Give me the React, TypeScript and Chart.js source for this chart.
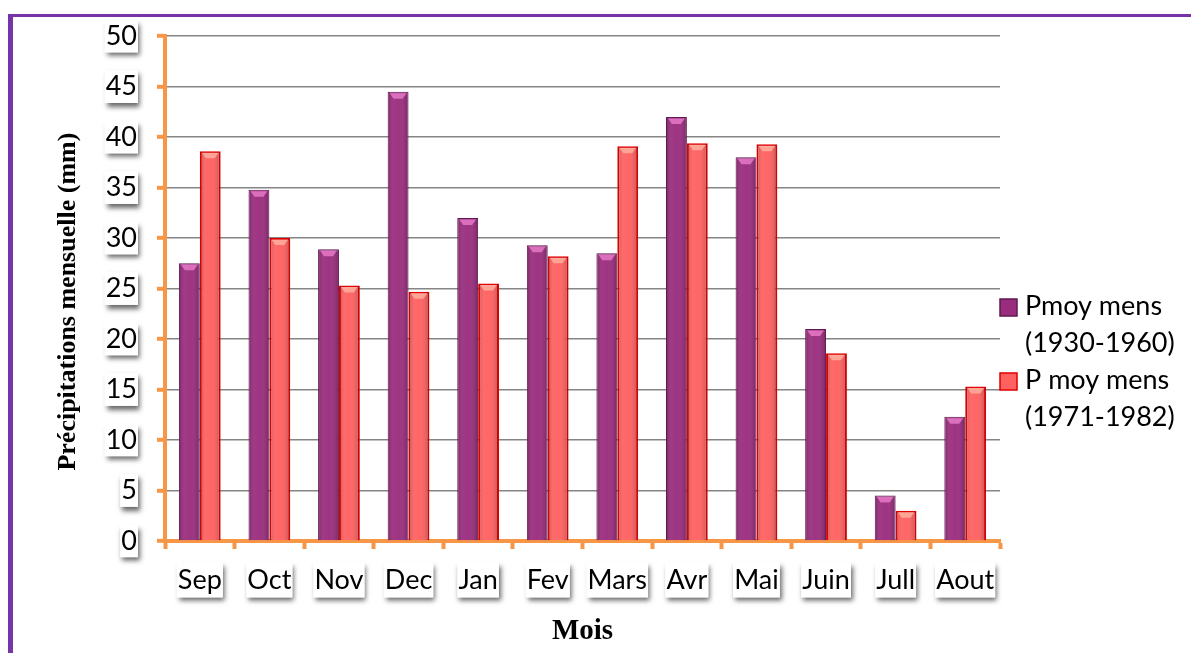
import React, { useEffect, useRef } from "react";
import { Chart, registerables } from "chart.js";

Chart.register(...registerables);

const months = ["Sep", "Oct", "Nov", "Dec", "Jan", "Fev", "Mars", "Avr", "Mai", "Juin", "Jull", "Aout"];
const pmoy1930 = [27.5, 34.8, 28.9, 44.5, 32.0, 29.3, 28.5, 42.0, 38.0, 21.0, 4.5, 12.3];
const pmoy1971 = [38.6, 30.0, 25.3, 24.7, 25.5, 28.2, 39.1, 39.4, 39.3, 18.6, 3.0, 15.3];
const seriesNames = [
  ["Pmoy mens", "(1930-1960)"],
  ["P moy mens", "(1971-1982)"],
];
const yTicks = [0, 5, 10, 15, 20, 25, 30, 35, 40, 45, 50];

const ORANGE = "#F79646";
const PURPLE = "#9A2C7D";
const PURPLE_BORDER = "#5E1A50";
const RED = "#FF6060";
const RED_BORDER = "#E00000";
const TICK_FONT = "Lato";

const labelShadowPlugin = {
  id: "labelShadow",
  beforeDraw(chart: any) {
    const ctx = chart.ctx;
    ["x", "y"].forEach((id) => {
      const scale: any = chart.scales[id];
      if (!scale || !scale.getLabelItems) return;
      const items = scale.getLabelItems();
      items.forEach((it: any) => {
        const b = it.options && it.options.backdrop;
        if (!b) return;
        ctx.save();
        ctx.translate(it.options.translation[0], it.options.translation[1]);
        ctx.shadowColor = "rgba(0,0,0,0.6)";
        ctx.shadowBlur = 5;
        ctx.shadowOffsetX = 2;
        ctx.shadowOffsetY = 4;
        ctx.fillStyle = "#fff";
        ctx.fillRect(b.left, b.top, b.width, b.height);
        ctx.restore();
      });
    });
  },
};

const barShinePlugin = {
  id: "barShine",
  afterDatasetsDraw(chart: any) {
    const ctx = chart.ctx;
    chart.data.datasets.forEach((ds: any, di: number) => {
      const meta = chart.getDatasetMeta(di);
      meta.data.forEach((bar: any) => {
        const { x, y, base, width } = bar.getProps(["x", "y", "base", "width"], true);
        const left = x - width / 2;
        const right = x + width / 2;
        const g = ctx.createLinearGradient(left, 0, right, 0);
        g.addColorStop(0, "rgba(0,0,0,0.22)");
        g.addColorStop(0.3, "rgba(255,255,255,0.06)");
        g.addColorStop(0.55, "rgba(255,255,255,0.04)");
        g.addColorStop(1, "rgba(0,0,0,0.22)");
        ctx.save();
        ctx.fillStyle = g;
        ctx.fillRect(left + 1, y + 1, width - 2, base - y - 1);
        ctx.beginPath();
        ctx.moveTo(left + 2, y + 1.5);
        ctx.lineTo(right - 2, y + 1.5);
        ctx.lineTo(right - 6, y + 7);
        ctx.lineTo(left + 6, y + 7);
        ctx.closePath();
        ctx.fillStyle = di === 0 ? "rgba(240,130,210,0.75)" : "rgba(255,190,170,0.7)";
        ctx.fill();
        ctx.restore();
      });
    });
  },
};

const legendPlugin = {
  id: "customLegend",
  afterDraw(chart: any) {
    const ctx = chart.ctx;
    const colors = [
      [PURPLE, PURPLE_BORDER],
      [RED, RED_BORDER],
    ];
    const markerX = 1000;
    const textX = 1025;
    const startY = 315;
    const lineGap = 37;
    ctx.save();
    ctx.font = `27px ${TICK_FONT}`;
    ctx.textBaseline = "alphabetic";
    ctx.textAlign = "left";
    seriesNames.forEach((lines, i) => {
      const base = startY + i * lineGap * 2;
      ctx.fillStyle = colors[i][0];
      ctx.fillRect(markerX, base - 16, 17, 17);
      ctx.strokeStyle = colors[i][1];
      ctx.lineWidth = 1.5;
      ctx.strokeRect(markerX, base - 16, 17, 17);
      ctx.fillStyle = "#000";
      lines.forEach((t, j) => ctx.fillText(t, textX, base + j * lineGap));
    });
    ctx.restore();
  },
};

export default function App() {
  const ref = useRef<HTMLCanvasElement>(null);
  useEffect(() => {
    if (!ref.current) return;
    const chart = new Chart(ref.current, {
      type: "bar",
      data: {
        labels: months,
        datasets: [
          {
            label: seriesNames[0].join(" "),
            data: pmoy1930,
            backgroundColor: PURPLE,
            borderColor: PURPLE_BORDER,
            borderWidth: 1,
            categoryPercentage: 0.6,
            barPercentage: 1.0,
          },
          {
            label: seriesNames[1].join(" "),
            data: pmoy1971,
            backgroundColor: RED,
            borderColor: RED_BORDER,
            borderWidth: 2,
            categoryPercentage: 0.6,
            barPercentage: 1.0,
          },
        ],
      },
      options: {
        responsive: false,
        animation: false,
        devicePixelRatio: 1,
        layout: { padding: { left: 0, right: 191, top: 33, bottom: 0 } },
        plugins: {
          legend: { display: false },
          tooltip: { enabled: false },
        },
        scales: {
          x: {
            afterFit: (s: any) => {
              s.height = 112;
            },
            grid: {
              display: true,
              drawOnChartArea: false,
              tickColor: ORANGE,
              tickLength: 8,
              tickWidth: 4,
              offset: true,
            },
            border: { display: true, color: ORANGE, width: 4 },
            ticks: {
              color: "#000",
              font: { family: TICK_FONT, size: 27 },
              padding: 15,
              maxRotation: 0,
              autoSkip: false,
              showLabelBackdrop: true,
              backdropColor: "#fff",
              backdropPadding: { left: 1, right: 1, top: 2, bottom: 1 },
            },
            title: {
              display: true,
              text: "Mois",
              color: "#000",
              font: { family: "Liberation Serif", size: 29, weight: "bold" },
              padding: { top: 0, bottom: 4 },
            },
          },
          y: {
            min: 0,
            max: 50,
            afterFit: (s: any) => {
              s.width = 165;
            },
            afterBuildTicks: (s: any) => {
              s.ticks = yTicks.map((v) => ({ value: v }));
            },
            grid: {
              color: "#858585",
              lineWidth: 1.6,
              tickColor: ORANGE,
              tickLength: 8,
              tickWidth: 4,
            },
            border: { display: true, color: ORANGE, width: 4 },
            ticks: {
              color: "#000",
              font: { family: TICK_FONT, size: 27 },
              padding: 20,
              showLabelBackdrop: true,
              backdropColor: "#fff",
              backdropPadding: { left: 1, right: 1, top: 0, bottom: 0 },
            },
            title: {
              display: true,
              text: "Précipitations mensuelle (mm)    ",
              color: "#000",
              font: { family: "Liberation Serif", size: 26, weight: "bold" },
              padding: { top: 53, bottom: 0 },
            },
          },
        },
      },
      plugins: [labelShadowPlugin, barShinePlugin, legendPlugin],
    } as any);
    return () => chart.destroy();
  }, []);

  return (
    <div style={{ position: "fixed", left: 0, top: 0, width: 1191, height: 653, background: "#fff", overflow: "hidden" }}>
      <div
        style={{
          position: "absolute",
          left: 8,
          top: 14,
          width: 1300,
          height: 800,
          borderTop: "3px solid #7535A8",
          borderLeft: "5px solid #7535A8",
          boxSizing: "border-box",
        }}
      />
      <canvas ref={ref} width={1191} height={653} style={{ position: "absolute", left: 0, top: 0, width: 1191, height: 653 }} />
    </div>
  );
}
